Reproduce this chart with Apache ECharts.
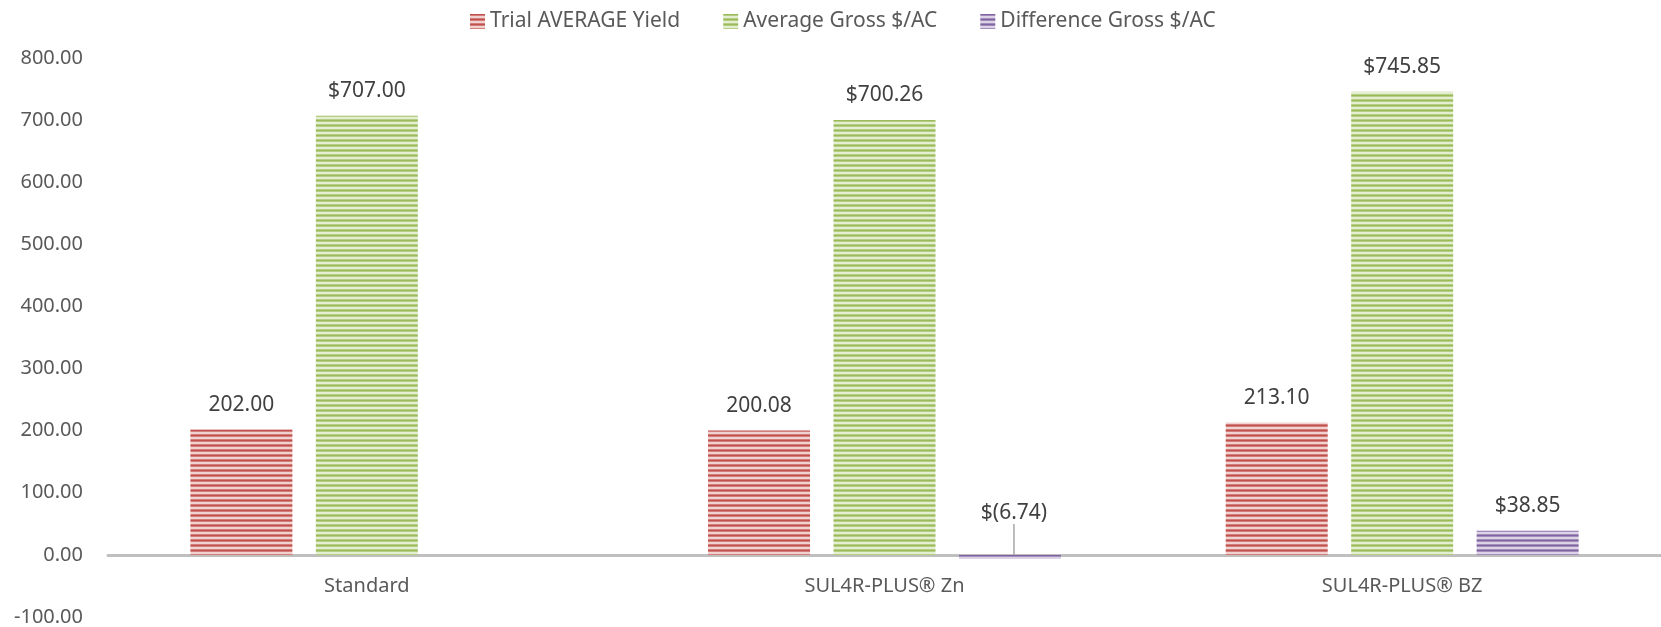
<!DOCTYPE html>
<html>
<head>
<meta charset="utf-8">
<title>Yield and gross comparison</title>
<script src="https://cdn.jsdelivr.net/npm/echarts@6/dist/echarts.min.js"></script>
<style>
  html, body { margin: 0; padding: 0; background: #fff; }
  #chart { width: 1661px; height: 627px; }
</style>
</head>
<body>
<div id="chart"></div>
<script>
// chart data
const categories = ['Standard', 'SUL4R-PLUS® Zn', 'SUL4R-PLUS® BZ']
const seriesNames = ['Trial AVERAGE Yield', 'Average Gross $/AC', 'Difference Gross $/AC']
const yieldValues = [202.00, 200.08, 213.10]
const grossValues = [707.00, 700.26, 745.85]
const diffValues = [null, -6.74, 38.85]

const fontFamily = '"Noto Sans", "Open Sans", sans-serif'

// horizontal stripe fill like the excel pattern
function stripes(dark, mid, light) {
  const c = document.createElement('canvas')
  c.width = 8
  c.height = 5
  const ctx = c.getContext('2d')
  const rows = [dark, mid, light, light, mid]
  rows.forEach((col, i) => {
    ctx.fillStyle = col
    ctx.fillRect(0, i, 8, 1)
  })
  return { image: c, repeat: 'repeat' }
}

const redFill = stripes('#c0504d', '#d47e7c', '#f0d2d1')
const greenFill = stripes('#9bbb59', '#b6ce84', '#e4eed3')
const purpleFill = stripes('#8064a2', '#a28dbb', '#dcd3e7')

function money(v) {
  if (v == null) return ''
  return v < 0 ? '$(' + Math.abs(v).toFixed(2) + ')' : '$' + v.toFixed(2)
}

const labelBase = {
  show: true,
  position: 'top',
  distance: 14,
  color: '#404040',
  fontFamily: fontFamily,
  fontSize: 21
}

const chart = echarts.init(document.getElementById('chart'))

chart.setOption({
  animation: false,
  textStyle: { fontFamily: fontFamily },
  legend: {
    top: 6,
    left: 465,
    itemWidth: 15,
    itemHeight: 15,
    itemGap: 43,
    icon: 'rect',
    textStyle: { color: '#595959', fontSize: 21, fontFamily: fontFamily },
    data: seriesNames
  },
  grid: {
    left: 108,
    right: 0,
    top: 58,
    bottom: 10,
    containLabel: false,
    outerBoundsMode: 'none'
  },
  xAxis: {
    type: 'category',
    data: categories,
    axisLine: { onZero: true, lineStyle: { color: '#bfbfbf', width: 3 } },
    axisTick: { show: false },
    // labels sit just under the zero line, not at the grid bottom
    axisLabel: { color: '#595959', fontSize: 20, margin: -41, fontFamily: fontFamily }
  },
  yAxis: {
    type: 'value',
    min: -100,
    max: 800,
    interval: 100,
    axisLine: { show: false },
    axisTick: { show: false },
    splitLine: { show: false },
    axisLabel: {
      color: '#595959',
      fontSize: 20,
      margin: 25,
      fontFamily: fontFamily,
      formatter: v => v.toFixed(2)
    }
  },
  series: [
    {
      name: seriesNames[0],
      type: 'bar',
      barWidth: 102,
      barGap: '23%',
      itemStyle: { color: redFill },
      label: Object.assign({}, labelBase, { formatter: p => p.value.toFixed(2) }),
      data: yieldValues
    },
    {
      name: seriesNames[1],
      type: 'bar',
      barWidth: 102,
      barGap: '23%',
      itemStyle: { color: greenFill },
      label: Object.assign({}, labelBase, { formatter: p => money(p.value) }),
      data: grossValues
    },
    {
      name: seriesNames[2],
      type: 'bar',
      barWidth: 102,
      barGap: '23%',
      itemStyle: { color: purpleFill },
      label: Object.assign({}, labelBase, { formatter: p => money(p.value) }),
      // negative label is pushed up and tied back to its bar
      labelLayout: p => (diffValues[p.dataIndex] < 0 ? { dy: -17, dx: 4 } : {}),
      data: diffValues.map(v => (v != null && v < 0
        ? { value: v, labelLine: { show: true, lineStyle: { color: '#a6a6a6', width: 1.5 } } }
        : v))
    }
  ]
})
</script>
</body>
</html>
